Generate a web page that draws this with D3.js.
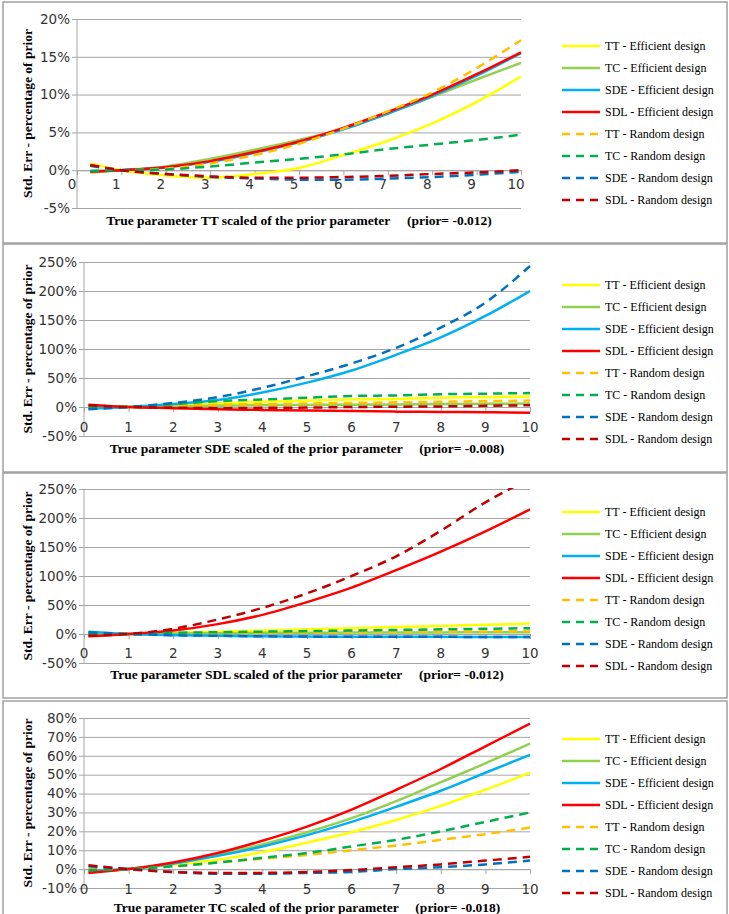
<!DOCTYPE html>
<html>
<head>
<meta charset="utf-8">
<script src="https://cdn.jsdelivr.net/npm/d3@7"></script>
<style>
  body { margin: 0; background: #fff; }
  svg { display: block; }
  .tick-label { font-family: "DejaVu Sans", sans-serif; font-size: 13.5px; fill: #333; }
  .axis-title { font-family: "Liberation Serif", "Times New Roman", serif; font-size: 13.5px; font-weight: bold; fill: #000; white-space: pre; }
  .legend-text { font-family: "Liberation Serif", "Times New Roman", serif; font-size: 12px; fill: #000; }
</style>
</head>
<body>
<div id="chart"></div>
<script>
// series, in legend order
const legendLabels = [
  "TT - Efficient design", "TC - Efficient design", "SDE - Efficient design", "SDL - Efficient design",
  "TT - Random design", "TC - Random design", "SDE - Random design", "SDL - Random design"
];
const lineColors = ["#ffff00", "#92d050", "#00b0f0", "#ff0000", "#ffc000", "#00b050", "#0070c0", "#c00000"];
const isDashed = [false, false, false, false, true, true, true, true];

const xTicks = [0, 1, 2, 3, 4, 5, 6, 7, 8, 9, 10];
const xTT = [0.3, 1, 2, 3, 4, 5, 6, 7, 8, 9, 10];
const xRest = [0.1, 1, 2, 3, 4, 5, 6, 7, 8, 9, 10];

// std. err in % of prior
const ttValues = [
  [0.9, 0, -0.7, -1.0, -0.5, 0.3, 2.0, 3.9, 6.2, 9.0, 12.4],
  [-0.3, 0, 0.5, 1.5, 2.7, 4.0, 5.5, 7.5, 9.7, 12.0, 14.2],
  [-0.1, 0, 0.4, 1.1, 2.3, 3.7, 5.4, 7.5, 9.8, 12.5, 15.5],
  [-0.2, 0, 0.4, 1.2, 2.4, 3.8, 5.6, 7.7, 10.0, 12.7, 15.6],
  [0.6, 0, 0.2, 0.9, 2.0, 3.5, 5.5, 7.8, 10.3, 13.5, 17.2],
  [-0.1, 0, 0.1, 0.5, 1.0, 1.5, 2.1, 2.8, 3.4, 4.0, 4.7],
  [0.6, 0, -0.5, -0.9, -1.1, -1.25, -1.25, -1.1, -0.9, -0.6, -0.2],
  [0.7, 0, -0.5, -0.8, -1.0, -1.0, -0.9, -0.75, -0.5, -0.3, 0.0]
];
const sdeValues = [
  [1, 0, 3, 6, 9, 11, 13, 14, 16, 17, 18],
  [2, 0, 1, 2, 3, 3.5, 4, 4.5, 5, 5.5, 6],
  [-3, 0, 5, 12, 25, 42, 63, 90, 120, 157, 200],
  [4, 0, -2, -4, -5, -6, -7, -8, -8.5, -9, -10],
  [0, 0, 2, 4, 5, 6, 7, 8, 9, 10, 11],
  [-1, 0, 5, 10, 13, 16, 19, 20, 22, 23, 24],
  [-4, 0, 7, 17, 33, 53, 75, 102, 137, 180, 243],
  [3, 0, -1, -2, -1.5, -1, 0, 0.5, 1, 2, 3]
];
const sdlValues = [
  [2, 0, 2, 4, 6, 8, 10, 12, 14, 16, 18],
  [1, 0, 1, 1.5, 2, 2.2, 2.4, 2.6, 2.8, 2.9, 3],
  [4, 0, -2, -3, -4, -4.5, -4.7, -4.8, -4.9, -5, -5],
  [-4, 0, 6, 17, 33, 55, 80, 110, 142, 177, 215],
  [1, 0, 1, 1.5, 2, 2.5, 3, 3.5, 4, 4.5, 5],
  [0, 0, 2, 3, 4, 5, 6, 7, 8, 9, 10],
  [3, 0, -2, -3, -4, -4.5, -4.7, -4.8, -4.9, -5, -5],
  [-3, 0, 9, 25, 45, 70, 100, 134, 178, 227, 268]
];
const tcValues = [
  [-1, 0, 2.5, 5, 9, 14, 19.5, 26, 33.5, 42, 51],
  [-1.5, 0, 3, 7.5, 13, 19.5, 27, 36, 46, 56, 66.5],
  [-1, 0, 3, 7, 12, 18, 25, 33, 41.5, 51, 60.5],
  [-2, 0, 3.5, 8.5, 15, 22.5, 31.5, 42, 53, 65, 77],
  [0, 0, 1.5, 3.5, 5.5, 7.5, 10, 12.5, 15.5, 18.5, 22],
  [-0.5, 0, 1.5, 3.5, 6, 8.5, 12, 15.5, 20, 25, 30],
  [1.5, 0, -1.5, -2.5, -2.5, -2, -1.5, 0, 1, 2.5, 4.5],
  [2, 0, -1.5, -2, -2, -1.5, -0.5, 1, 2.5, 4.5, 6.5]
];

const ttYTicks = [-5, 0, 5, 10, 15, 20];
const sdeYTicks = [-50, 0, 50, 100, 150, 200, 250];
const sdlYTicks = [-50, 0, 50, 100, 150, 200, 250];
const tcYTicks = [-10, 0, 10, 20, 30, 40, 50, 60, 70, 80];

const yTitle = "Std. Err - percentage of prior";
const xTitles = [
  "True parameter TT scaled of the prior parameter     (prior= -0.012)",
  "True parameter SDE scaled of the prior parameter     (prior= -0.008)",
  "True parameter SDL scaled of the prior parameter     (prior= -0.012)",
  "True parameter TC scaled of the prior parameter     (prior= -0.018)"
];

// layout of the four stacked panels
const panels = [
  { box: [2, 243], plot: { left: 77, right: 521, top: 19, bottom: 208 }, xs: xTT, values: ttValues, yTicks: ttYTicks, labelY: 184, labelDx: -5, titleY: 220, legendTop: 46 },
  { box: [244, 472], plot: { left: 84, right: 530, top: 262, bottom: 436 }, xs: xRest, values: sdeValues, yTicks: sdeYTicks, labelY: 427, labelDx: 0, titleY: 448, legendTop: 285 },
  { box: [473, 698], plot: { left: 84, right: 530, top: 489, bottom: 663 }, xs: xRest, values: sdlValues, yTicks: sdlYTicks, labelY: 653, labelDx: 0, titleY: 674, legendTop: 512 },
  { box: [701, 916], plot: { left: 84, right: 530, top: 718, bottom: 888 }, xs: xRest, values: tcValues, yTicks: tcYTicks, labelY: 889, labelDx: 0, titleY: 907, legendTop: 739 }
];

const width = 729, height = 914;
const gridColor = "#a6a6a6";

const svg = d3.select("#chart").append("svg")
  .attr("width", width).attr("height", height);

panels.forEach((p, pi) => {
  const g = svg.append("g");

  g.append("rect")
    .attr("x", 3).attr("y", p.box[0])
    .attr("width", 724).attr("height", p.box[1] - p.box[0])
    .attr("fill", "#fff").attr("stroke", "#a0a0a0").attr("stroke-width", 1.5);

  const x = d3.scaleLinear().domain([0, 10]).range([p.plot.left, p.plot.right]);
  const y = d3.scaleLinear().domain(d3.extent(p.yTicks)).range([p.plot.bottom, p.plot.top]);

  // gridlines
  g.append("g")
    .attr("transform", `translate(${p.plot.left},0)`)
    .call(d3.axisLeft(y).tickValues(p.yTicks).tickSize(-(p.plot.right - p.plot.left)).tickFormat(""))
    .call(a => a.select(".domain").remove())
    .call(a => a.selectAll("line").attr("stroke", gridColor));

  // y axis with outward ticks
  g.append("g")
    .attr("transform", `translate(${p.plot.left},0)`)
    .call(d3.axisLeft(y).tickValues(p.yTicks).tickSize(5).tickPadding(2).tickFormat(d => d + "%"))
    .call(a => a.select(".domain").attr("stroke", gridColor).attr("d", `M0,${p.plot.top}V${p.plot.bottom}`))
    .call(a => a.selectAll("line").attr("stroke", gridColor))
    .call(a => a.selectAll("text").attr("class", "tick-label").attr("font-family", null).attr("font-size", null));

  // x axis sits on the 0% line, ticks pointing down
  g.append("g")
    .attr("transform", `translate(0,${y(0)})`)
    .call(d3.axisBottom(x).tickValues(xTicks).tickSize(5).tickFormat(""))
    .call(a => a.select(".domain").attr("stroke", gridColor))
    .call(a => a.selectAll("line").attr("stroke", gridColor));

  g.append("g")
    .selectAll("text")
    .data(xTicks)
    .join("text")
    .attr("class", "tick-label")
    .attr("x", d => x(d) + p.labelDx)
    .attr("y", p.labelY)
    .attr("dy", "0.35em")
    .attr("text-anchor", "middle")
    .text(d => d);

  // lines
  const clipId = "clip" + pi;
  svg.append("clipPath").attr("id", clipId)
    .append("rect")
    .attr("x", p.plot.left).attr("y", p.plot.top - 1)
    .attr("width", p.plot.right - p.plot.left + 2).attr("height", p.plot.bottom - p.plot.top + 2);

  const line = d3.line()
    .x(d => x(d[0]))
    .y(d => y(d[1]))
    .curve(d3.curveMonotoneX);

  g.append("g")
    .attr("clip-path", `url(#${clipId})`)
    .selectAll("path")
    .data(p.values)
    .join("path")
    .attr("d", vals => line(vals.map((v, i) => [p.xs[i], v])))
    .attr("fill", "none")
    .attr("stroke", (d, i) => lineColors[i])
    .attr("stroke-width", 2.5)
    .attr("stroke-dasharray", (d, i) => isDashed[i] ? "9,6" : null);

  // titles
  g.append("text")
    .attr("class", "axis-title")
    .attr("transform", `translate(27,${(p.plot.top + p.plot.bottom) / 2}) rotate(-90)`)
    .attr("text-anchor", "middle")
    .attr("dy", "0.35em")
    .text(yTitle);

  g.append("text")
    .attr("class", "axis-title")
    .attr("x", (p.plot.left + p.plot.right) / 2)
    .attr("y", p.titleY)
    .attr("dy", "0.35em")
    .attr("text-anchor", "middle")
    .text(xTitles[pi]);

  // legend
  const leg = g.append("g")
    .selectAll("g")
    .data(legendLabels)
    .join("g")
    .attr("transform", (d, i) => `translate(562,${p.legendTop + i * 22})`);

  leg.append("line")
    .attr("x1", 0).attr("x2", 38)
    .attr("stroke", (d, i) => lineColors[i])
    .attr("stroke-width", 2.5)
    .attr("stroke-dasharray", (d, i) => isDashed[i] ? "8,6" : null);

  leg.append("text")
    .attr("class", "legend-text")
    .attr("x", 43)
    .attr("dy", "0.35em")
    .text(d => d);
});
</script>
</body>
</html>
